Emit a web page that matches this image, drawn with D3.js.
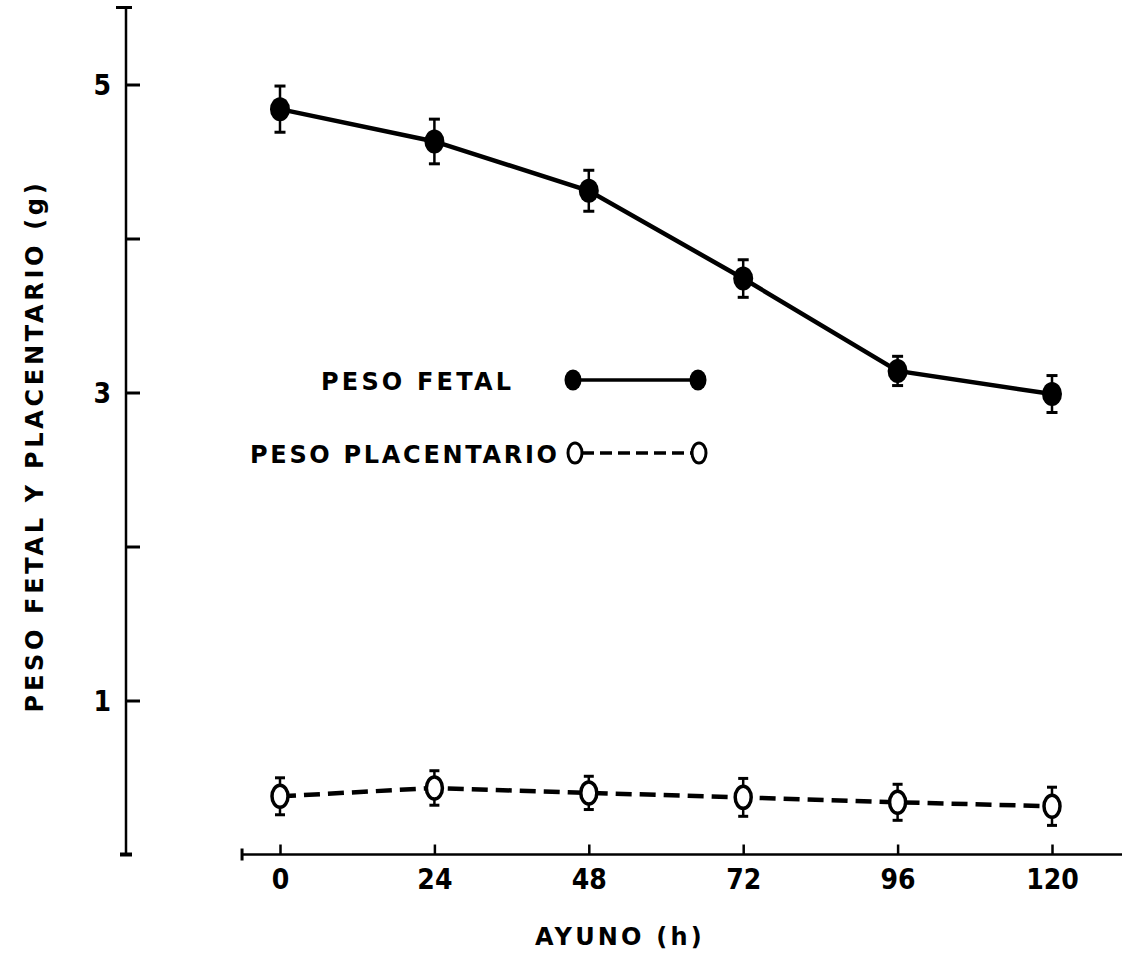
<!DOCTYPE html>
<html>
<head>
<meta charset="utf-8">
<script src="https://cdn.jsdelivr.net/npm/d3@7"></script>
<style>
  html, body { margin: 0; padding: 0; background: #fff; }
  svg { display: block; }
  .lbl { font-family: "DejaVu Sans", sans-serif; font-weight: bold; font-size: 24px; letter-spacing: 3.2px; fill: #000; }
  .num { font-family: "DejaVu Sans Condensed", "Liberation Sans Narrow", sans-serif; font-stretch: condensed; font-weight: bold; font-size: 28px; fill: #000; }
</style>
</head>
<body>
<script>
// Fasting time (h) and mean weights (g) with error half-widths
const hours = [0, 24, 48, 72, 96, 120];
const fetalWeight = [4.84, 4.63, 4.31, 3.74, 3.14, 2.99];
const fetalErr = [0.15, 0.145, 0.133, 0.122, 0.095, 0.12];
const placentalWeight = [0.378, 0.432, 0.40, 0.371, 0.339, 0.313];
const placentalErr = [0.12, 0.112, 0.108, 0.123, 0.117, 0.124];
const yTicks = [1, 2, 3, 4, 5];
const yTickLabels = [1, 3, 5];
const xTitle = "AYUNO (h)";
const yTitle = "PESO FETAL Y PLACENTARIO (g)";
const legendFetal = "PESO FETAL";
const legendPlacental = "PESO PLACENTARIO";

const W = 1122, H = 972;
const svg = d3.select("body").append("svg").attr("width", W).attr("height", H);

const x = d3.scaleLinear().domain([0, 120]).range([280, 1052]);
const y = d3.scaleLinear().domain([0, 5]).range([854.5, 84.5]);
const yAxisX = 126;
const xAxisY = y(0);

// ---- Y axis: ticks point inward, only odd values labelled
const yAxis = d3.axisLeft(y)
  .tickValues(yTicks)
  .tickSizeInner(-14)
  .tickSizeOuter(0)
  .tickPadding(15)
  .tickFormat(d => yTickLabels.includes(d) ? d : "");
const gy = svg.append("g").attr("transform", `translate(${yAxisX},0)`).call(yAxis);
gy.select(".domain").remove();
gy.selectAll(".tick line").attr("stroke", "#000").attr("stroke-width", 3);
gy.selectAll(".tick text").attr("class", "num").attr("dy", "0.36em");
svg.append("line")
  .attr("x1", yAxisX).attr("x2", yAxisX)
  .attr("y1", y(5.5)).attr("y2", y(0))
  .attr("stroke", "#000").attr("stroke-width", 2.5);
// end caps
svg.append("line").attr("x1", yAxisX - 10).attr("x2", yAxisX + 6)
  .attr("y1", y(5.5)).attr("y2", y(5.5)).attr("stroke", "#000").attr("stroke-width", 3);
svg.append("line").attr("x1", yAxisX - 6).attr("x2", yAxisX + 6)
  .attr("y1", y(0)).attr("y2", y(0)).attr("stroke", "#000").attr("stroke-width", 4);

// ---- X axis: ticks point upward
const xAxis = d3.axisBottom(x)
  .tickValues(hours)
  .tickSizeInner(-10)
  .tickSizeOuter(0)
  .tickPadding(15);
const gx = svg.append("g").attr("transform", `translate(0,${xAxisY})`).call(xAxis);
gx.select(".domain").remove();
gx.selectAll(".tick line").attr("stroke", "#000").attr("stroke-width", 2.5);
gx.selectAll(".tick text").attr("class", "num");
const xStart = x(-5.9), xEnd = W;
svg.append("line")
  .attr("x1", xStart).attr("x2", xEnd)
  .attr("y1", xAxisY).attr("y2", xAxisY)
  .attr("stroke", "#000").attr("stroke-width", 2.5);
svg.append("line").attr("x1", xStart).attr("x2", xStart)
  .attr("y1", xAxisY - 6).attr("y2", xAxisY + 6)
  .attr("stroke", "#000").attr("stroke-width", 3);

// ---- Titles
svg.append("text").attr("class", "lbl")
  .attr("x", 620).attr("y", 945).attr("text-anchor", "middle")
  .text(xTitle);
svg.append("text").attr("class", "lbl")
  .style("letter-spacing", "3.7px")
  .attr("transform", "translate(43,446) rotate(-90)")
  .attr("text-anchor", "middle")
  .text(yTitle);

// ---- Series
const fetal = hours.map((h, i) => ({ h, v: fetalWeight[i], e: fetalErr[i] }));
const plac = hours.map((h, i) => ({ h, v: placentalWeight[i], e: placentalErr[i] }));
const line = d3.line().x(d => x(d.h)).y(d => y(d.v));

function errorBars(data, capW) {
  const g = svg.append("g").attr("stroke", "#000");
  g.selectAll("line.v").data(data).join("line")
    .attr("x1", d => x(d.h)).attr("x2", d => x(d.h))
    .attr("y1", d => y(d.v + d.e)).attr("y2", d => y(d.v - d.e))
    .attr("stroke-width", 2.5);
  g.selectAll("line.t").data(data).join("line")
    .attr("x1", d => x(d.h) - capW / 2).attr("x2", d => x(d.h) + capW / 2)
    .attr("y1", d => y(d.v + d.e)).attr("y2", d => y(d.v + d.e))
    .attr("stroke-width", 3);
  g.selectAll("line.b").data(data).join("line")
    .attr("x1", d => x(d.h) - capW / 2).attr("x2", d => x(d.h) + capW / 2)
    .attr("y1", d => y(d.v - d.e)).attr("y2", d => y(d.v - d.e))
    .attr("stroke-width", 3);
}

// fetal: solid line, filled markers
svg.append("path").datum(fetal).attr("d", line)
  .attr("fill", "none").attr("stroke", "#000").attr("stroke-width", 4.5);
errorBars(fetal, 11);
svg.append("g").selectAll("ellipse").data(fetal).join("ellipse")
  .attr("cx", d => x(d.h)).attr("cy", d => y(d.v))
  .attr("rx", 10).attr("ry", 12).attr("fill", "#000");

// placental: dashed line, open markers
svg.append("path").datum(plac).attr("d", line)
  .attr("fill", "none").attr("stroke", "#000").attr("stroke-width", 4.5)
  .attr("stroke-dasharray", "16 8");
errorBars(plac, 10);
svg.append("g").selectAll("ellipse").data(plac).join("ellipse")
  .attr("cx", d => x(d.h)).attr("cy", d => y(d.v))
  .attr("rx", 8).attr("ry", 11).attr("fill", "#fff")
  .attr("stroke", "#000").attr("stroke-width", 3.5);

// ---- Legend
const lg = svg.append("g");
lg.append("text").attr("class", "lbl").attr("x", 321).attr("y", 390).text(legendFetal);
lg.append("line").attr("x1", 573).attr("x2", 698).attr("y1", 380).attr("y2", 380)
  .attr("stroke", "#000").attr("stroke-width", 3.5);
lg.selectAll("ellipse.f").data([573, 698]).join("ellipse")
  .attr("cx", d => d).attr("cy", 380).attr("rx", 8.5).attr("ry", 10.5).attr("fill", "#000");

lg.append("text").attr("class", "lbl").attr("x", 250).attr("y", 463)
  .style("letter-spacing", "2.7px").text(legendPlacental);
lg.append("line").attr("x1", 582).attr("x2", 692).attr("y1", 453).attr("y2", 453)
  .attr("stroke", "#000").attr("stroke-width", 3.5).attr("stroke-dasharray", "12 6");
lg.selectAll("ellipse.p").data([575, 699]).join("ellipse")
  .attr("cx", d => d).attr("cy", 453).attr("rx", 7).attr("ry", 10)
  .attr("fill", "#fff").attr("stroke", "#000").attr("stroke-width", 3);
</script>
</body>
</html>
